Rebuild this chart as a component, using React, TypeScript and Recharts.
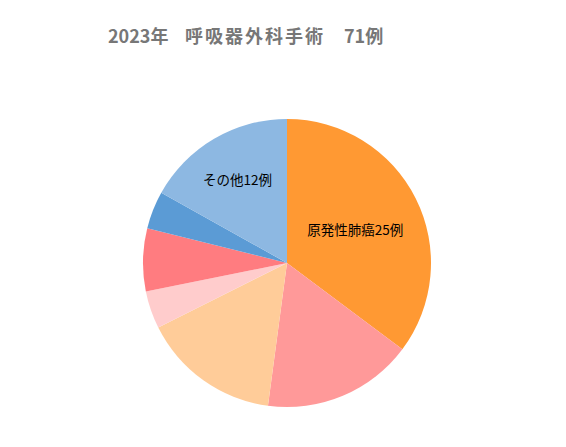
import React from "react";
import { PieChart, Pie, Cell } from "recharts";

const categories = ["原発性肺癌", "その他A", "その他B", "その他C", "その他D", "その他E", "その他"];
const values = [25, 12, 11, 3, 5, 3, 12];
const colors = ["#FF9933", "#FF9999", "#FFCC99", "#FFCCCC", "#FF7C80", "#5B9BD5", "#8DB8E2"];
const sliceLabels = ["原発性肺癌25例", "", "", "", "", "", "その他12例"];
const labelRadius = [0.53, 0, 0, 0, 0, 0, 0.68];
const titleParts = ["2023年", "呼吸器外科手術", "71例"];

const data = categories.map((name, i) => ({ name, value: values[i] }));
const RAD = Math.PI / 180;

const renderLabel = (props: any) => {
  const { cx, cy, midAngle, outerRadius, index } = props;
  const text = sliceLabels[index];
  if (!text) return null;
  const r = outerRadius * labelRadius[index];
  const x = cx + r * Math.cos(-midAngle * RAD);
  const y = cy + r * Math.sin(-midAngle * RAD);
  return (
    <text x={x} y={y} fill="#000" fontSize={13.5} textAnchor="middle" dominantBaseline="central"
      fontFamily="'Noto Sans CJK JP', sans-serif">
      {text}
    </text>
  );
};

const titleStyle: React.CSSProperties = {
  position: "absolute", top: 21, fontFamily: "'Noto Sans CJK JP', sans-serif",
  fontWeight: 700, fontSize: 18, color: "#777", whiteSpace: "pre", lineHeight: "28px",
};

export default function App() {
  return (
    <div style={{ width: 566, height: 447, position: "relative", margin: -8, background: "#fff" }}>
      <span style={{ ...titleStyle, left: 108 }}>{titleParts[0]}</span>
      <span style={{ ...titleStyle, left: 185, letterSpacing: 2 }}>{titleParts[1]}</span>
      <span style={{ ...titleStyle, left: 344 }}>{titleParts[2]}</span>
      <PieChart width={566} height={447} margin={{ top: 0, right: 0, bottom: 0, left: 0 }}
        style={{ position: "absolute", left: 0, top: 0 }}>
        <Pie data={data} dataKey="value" cx={287} cy={263} outerRadius={144} startAngle={90} endAngle={-270}
          stroke="none" label={renderLabel} labelLine={false} isAnimationActive={false}>
          {data.map((d, i) => <Cell key={d.name} fill={colors[i]} />)}
        </Pie>
      </PieChart>
    </div>
  );
}
